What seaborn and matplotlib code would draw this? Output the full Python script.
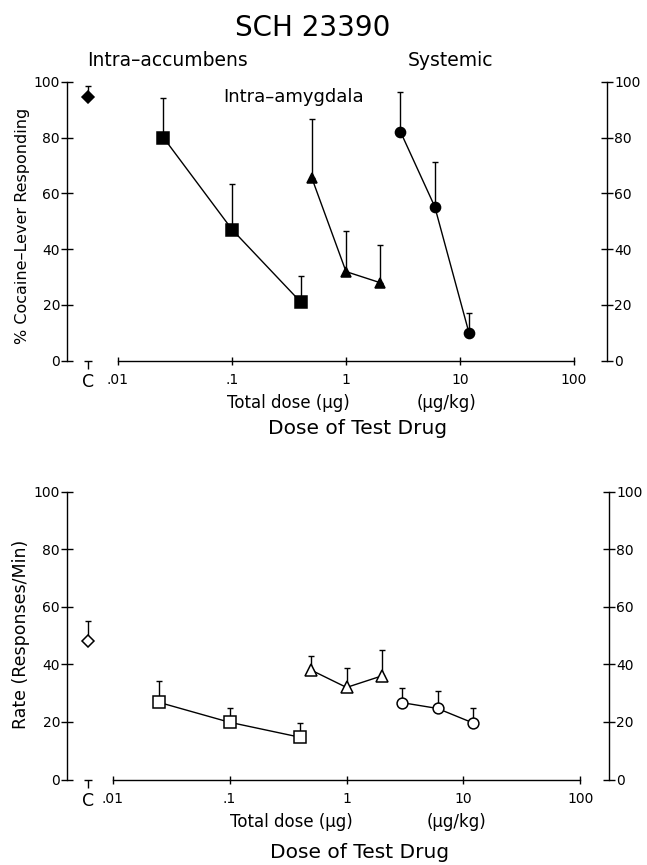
import matplotlib
matplotlib.use("Agg")
import matplotlib.pyplot as plt
import seaborn as sns
from matplotlib.ticker import FixedLocator, FixedFormatter

# doses (accumbens / amygdala in total µg, systemic in µg/kg)
acc_dose = [0.025, 0.1, 0.4]
amy_dose = [0.5, 1, 2]
sys_dose = [3, 6, 12]

# top panel: % cocaine-lever responding, mean and top of error bar
ctrl_pct, ctrl_pct_top = 94.4, 98.5
acc_pct = [80, 47, 21]
acc_pct_top = [94.3, 63.3, 30.3]
amy_pct = [65.6, 31.9, 27.9]
amy_pct_top = [86.5, 46.3, 41.3]
sys_pct = [82.1, 55.2, 9.8]
sys_pct_top = [96.5, 71.3, 16.9]

# bottom panel: rate (responses/min)
ctrl_rate, ctrl_rate_top = 48.2, 55
acc_rate = [26.8, 19.9, 14.7]
acc_rate_top = [34.2, 24.8, 19.6]
amy_rate = [38, 32, 36]
amy_rate_top = [43, 38.9, 45]
sys_rate = [26.7, 24.7, 19.7]
sys_rate_top = [31.9, 30.9, 24.7]

x_ticks = [0.01, 0.1, 1, 10, 100]
x_tick_labels = [".01", ".1", "1", "10", "100"]
y_ticks = [0, 20, 40, 60, 80, 100]

sns.set_style("ticks", {"axes.edgecolor": "black", "xtick.color": "black",
                        "ytick.color": "black", "text.color": "black",
                        "axes.labelcolor": "black"})
plt.rcParams['font.family'] = ['DejaVu Sans']

fig = plt.figure(figsize=(6.47, 8.65), dpi=100)
ax1 = fig.add_axes([0.1036, 0.5832, 0.8346, 0.3223])
ax2 = fig.add_axes([0.1036, 0.0988, 0.8377, 0.3327])


def errbars(ax, x, y, top):
    up = [t - v for t, v in zip(top, y)]
    ax.errorbar(x, y, yerr=[[0] * len(y), up], fmt='none', ecolor='black',
                elinewidth=1.0, capsize=2.2, capthick=1.0, zorder=1, clip_on=False)


def panel(ax, ctrl_x, xlim, ctrl, ctrl_top, series, filled, dsize):
    face = 'black' if filled else 'white'
    errbars(ax, [ctrl_x], [ctrl], [ctrl_top])
    ax.plot([ctrl_x], [ctrl], marker='D', ms=dsize, mfc=face, mec='black',
            mew=1.1, ls='none', zorder=3, clip_on=False)
    for dose, vals, top, mk, ms in series:
        errbars(ax, dose, vals, top)
        sns.lineplot(x=dose, y=vals, ax=ax, color='black', lw=1.0,
                     marker=mk, markersize=ms, markerfacecolor=face,
                     markeredgecolor='black', markeredgewidth=1.1,
                     zorder=3, clip_on=False)
    ax.set_xscale('log')
    ax.set_xlim(*xlim)
    ax.set_ylim(0, 100)
    ax.xaxis.set_major_locator(FixedLocator(x_ticks))
    ax.xaxis.set_major_formatter(FixedFormatter(x_tick_labels))
    ax.xaxis.set_minor_locator(FixedLocator([ctrl_x]))
    ax.xaxis.set_minor_formatter(FixedFormatter(["C"]))
    ax.set_yticks(y_ticks)
    ax.spines['top'].set_visible(False)
    ax.spines['bottom'].set_bounds(0.01, 100)
    for s in ['left', 'right', 'bottom']:
        ax.spines[s].set_linewidth(1.0)
    ax.tick_params(axis='y', which='major', direction='inout', length=8,
                   width=1, labelsize=10, pad=1, left=True, right=True,
                   labelleft=True, labelright=True)
    ax.tick_params(axis='x', which='major', direction='inout', length=6,
                   width=1, labelsize=10, pad=6)
    ax.tick_params(axis='x', which='minor', direction='out', length=6,
                   width=1, labelsize=12.5, pad=3)
    # crossbar of the control tick
    ax.plot([ctrl_x], [0], marker='_', ms=6, mew=1, color='black',
            clip_on=False)
    ax.set_xlabel("")
    ax.set_ylabel("")


panel(ax1, 0.0055, (0.003573, 194.5), ctrl_pct, ctrl_pct_top,
      [(acc_dose, acc_pct, acc_pct_top, 's', 8),
       (amy_dose, amy_pct, amy_pct_top, '^', 7.5),
       (sys_dose, sys_pct, sys_pct_top, 'o', 7.3)], True, 6.5)
panel(ax2, 0.0062, (0.00408, 175.4), ctrl_rate, ctrl_rate_top,
      [(acc_dose, acc_rate, acc_rate_top, 's', 8.3),
       (amy_dose, amy_rate, amy_rate_top, '^', 8.3),
       (sys_dose, sys_rate, sys_rate_top, 'o', 7.8)], False, 6.3)


def fx(px):
    return px / 647


def fy(py):
    return 1 - py / 865


fig.text(fx(313), fy(28), "SCH 23390", fontsize=20, ha='center', va='center')
fig.text(fx(87), fy(60), "Intra–accumbens", fontsize=13.5, ha='left', va='center')
fig.text(fx(408), fy(60), "Systemic", fontsize=13.5, ha='left', va='center')
fig.text(fx(223), fy(97), "Intra–amygdala", fontsize=13, ha='left', va='center')

fig.text(fx(23), fy(226), "% Cocaine–Lever Responding", fontsize=11.5,
         rotation=90, ha='center', va='center')
fig.text(fx(21), fy(634), "Rate (Responses/Min)", fontsize=12.5,
         rotation=90, ha='center', va='center')

for ytd, ydt, xtd, xkg, xdt in [(403, 428, 288, 446, 358),
                                (822, 853, 291, 456, 360)]:
    fig.text(fx(xtd), fy(ytd), "Total dose (μg)", fontsize=12, ha='center', va='center')
    fig.text(fx(xkg), fy(ytd), "(μg/kg)", fontsize=12, ha='center', va='center')
    fig.text(fx(xdt), fy(ydt), "Dose of Test Drug", fontsize=14.5, ha='center', va='center')

fig.savefig("out.png", dpi=100)
